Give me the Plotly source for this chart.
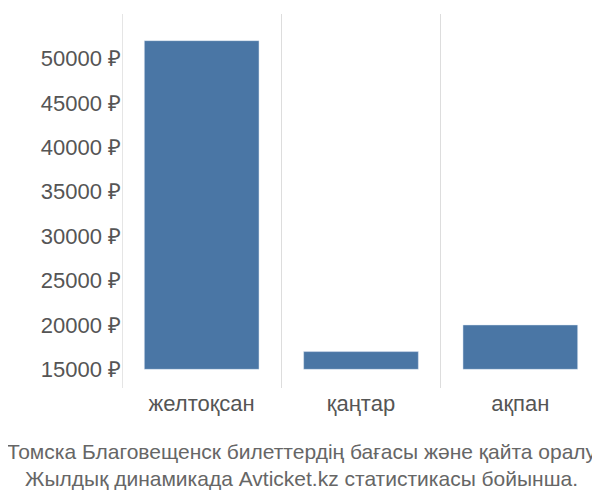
import plotly.graph_objects as go

categories = ["желтоқсан", "қаңтар", "ақпан"]
values = [52000, 17000, 20000]
base_value = 15000
tick_vals = [15000, 20000, 25000, 30000, 35000, 40000, 45000, 50000, 55000]
tick_text = [f"{v} ₽" for v in tick_vals]
caption = "Томска Благовещенск билеттердің бағасы және қайта оралу<br>Жылдық динамикада Avticket.kz статистикасы бойынша."

xs = list(range(len(categories)))
fig = go.Figure()
fig.add_trace(go.Bar(x=xs, y=[v - base_value for v in values], base=base_value,
                     marker_color="#4a76a5", width=0.72, hoverinfo="skip"))
fig.add_trace(go.Scatter(x=[0.5, 1.5], y=[None, None], xaxis="x2", showlegend=False))
fig.update_layout(
    width=592, height=492, showlegend=False,
    plot_bgcolor="white", paper_bgcolor="white",
    margin=dict(l=114, r=0, t=6, b=112),
    font=dict(family="Liberation Sans, Arial", size=22, color="#555"),
    xaxis=dict(range=[-0.5, 2.5], tickvals=xs, ticktext=categories, showgrid=False,
               showline=False, zeroline=False, ticks="", tickfont=dict(size=22, color="#555")),
    xaxis2=dict(range=[-0.5, 2.5], overlaying="x", tickvals=[0.5, 1.5], showticklabels=False,
                showgrid=True, gridcolor="#ddd", zeroline=False, showline=False),
    yaxis=dict(range=[12900, 55000], tickvals=tick_vals, ticktext=tick_text,
               showgrid=False, zeroline=False, ticks="", tickfont=dict(size=22, color="#555")),
    annotations=[dict(text=caption, x=0.376, xref="paper", y=0, yref="paper", yshift=-50,
                      xanchor="center", yanchor="top", showarrow=False, align="center",
                      font=dict(size=21, color="#666"))],
)
fig.add_shape(type="line", xref="x", yref="paper", x0=-0.5, x1=-0.5, y0=0, y1=1,
              line=dict(color="#ccc", width=1))
fig.write_html("out.html")
